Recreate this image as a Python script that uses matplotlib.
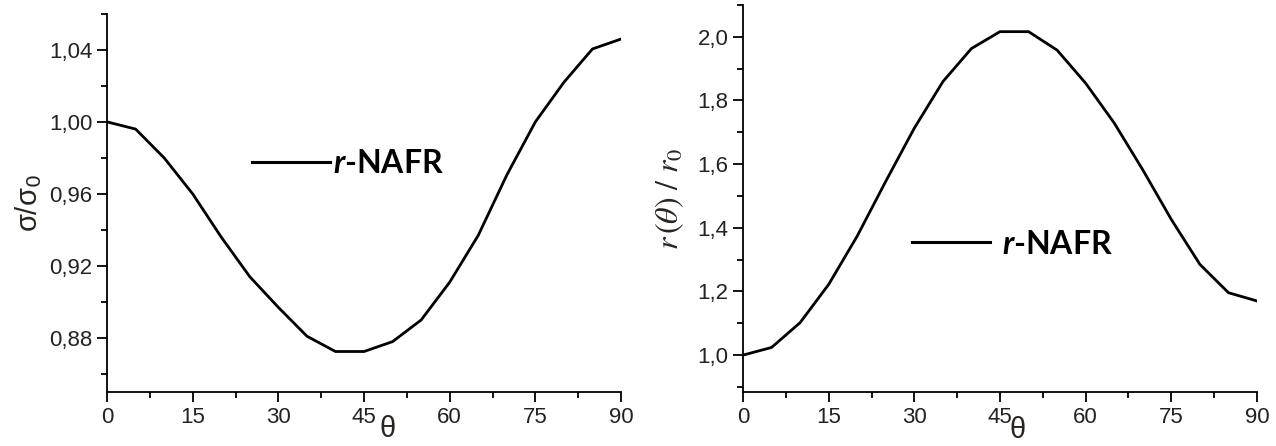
import matplotlib

matplotlib.use("Agg")
import matplotlib.pyplot as plt
from matplotlib.ticker import FuncFormatter, MultipleLocator

# angle theta (deg) and the two normalised quantities
theta = [0, 5, 10, 15, 20, 25, 30, 35, 40, 45, 50, 55, 60, 65, 70, 75, 80, 85, 90]
sigma_ratio = [1.000, 0.996, 0.980, 0.960, 0.936, 0.914, 0.897, 0.881, 0.8725,
               0.8725, 0.878, 0.890, 0.911, 0.937, 0.9705, 1.000, 1.022, 1.0405, 1.046]
r_ratio = [1.000, 1.024, 1.102, 1.222, 1.374, 1.546, 1.713, 1.859, 1.963,
           2.016, 2.016, 1.958, 1.854, 1.729, 1.582, 1.426, 1.285, 1.196, 1.170]
series_label = r"$r$-NAFR"

plt.rcParams["font.family"] = ["Liberation Sans", "DejaVu Sans"]
plt.rcParams["mathtext.fontset"] = "custom"
plt.rcParams["mathtext.it"] = "Lato:italic:bold"
plt.rcParams["mathtext.rm"] = "Lato:bold"

TICK_COLOR = "#222222"
LABEL_COLOR = "#2a2420"


def comma_fmt(decimals):
    return FuncFormatter(lambda v, _: f"{v:.{decimals}f}".replace(".", ","))


def style_axes(ax, xlabel_x):
    for side in ("top", "right"):
        ax.spines[side].set_visible(False)
    for side in ("left", "bottom"):
        ax.spines[side].set_linewidth(1.3)
    ax.tick_params(which="major", direction="out", length=7, width=1.3,
                   labelsize=16, labelcolor=TICK_COLOR)
    ax.tick_params(which="minor", direction="out", length=4, width=1.3)
    ax.set_xlim(0, 90)
    ax.xaxis.set_major_locator(MultipleLocator(15))
    ax.xaxis.set_minor_locator(MultipleLocator(7.5))
    ax.set_xlabel("θ", fontsize=21, color=LABEL_COLOR)
    ax.xaxis.set_label_coords(xlabel_x, -0.062)


fig = plt.figure(figsize=(12.76, 4.46), dpi=100)
ax1 = fig.add_axes([0.0839, 0.121, 0.4028, 0.848])
ax2 = fig.add_axes([0.5823, 0.121, 0.4028, 0.868])

# left panel
ax1.plot(theta, sigma_ratio, color="black", lw=2.0, label=series_label)
style_axes(ax1, 0.545)
ax1.set_ylim(0.85, 1.06)
ax1.yaxis.set_major_locator(MultipleLocator(0.04))
ax1.yaxis.set_minor_locator(MultipleLocator(0.02))
ax1.yaxis.set_major_formatter(comma_fmt(2))
ax1.set_ylabel("σ/σ$_0$", fontsize=21, color=LABEL_COLOR,
               math_fontfamily="dejavusans", labelpad=4)

# right panel
ax2.plot(theta, r_ratio, color="black", lw=2.0, label=series_label)
style_axes(ax2, 0.535)
ax2.set_ylim(0.884, 2.1)
ax2.yaxis.set_major_locator(MultipleLocator(0.2))
ax2.yaxis.set_minor_locator(MultipleLocator(0.1))
ax2.yaxis.set_major_formatter(comma_fmt(1))
ax2.set_ylabel(r"$r\,(\theta)\ /\ r_0$", fontsize=23, color=LABEL_COLOR,
               math_fontfamily="stix", labelpad=8)

for ax, anchor, pad in ((ax1, (0.282, 0.603), 0.1), (ax2, (0.329, 0.382), 0.35)):
    leg = ax.legend(loc="center left", bbox_to_anchor=anchor, frameon=False,
                    borderpad=0, borderaxespad=0, handlelength=2.45,
                    handletextpad=pad, prop={"family": "Lato", "weight": "bold", "size": 23})
    for line in leg.get_lines():
        line.set_linewidth(2.2)

fig.savefig("out.png", dpi=100)
